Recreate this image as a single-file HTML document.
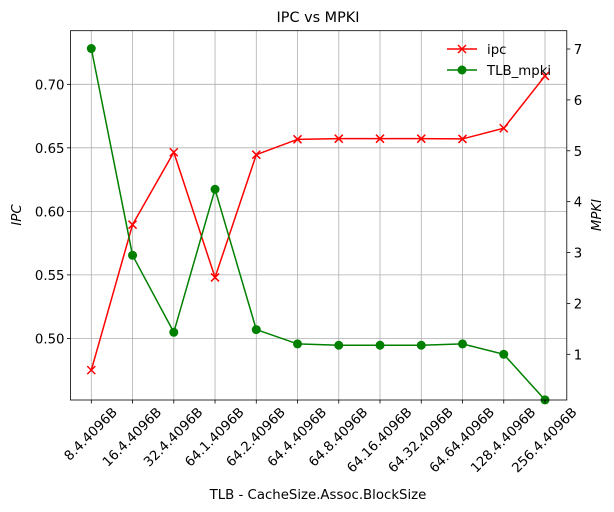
<!DOCTYPE html>
<html><head><meta charset="utf-8">
<style>
body{margin:0;background:#fff;}
svg{display:block;font-family:"DejaVu Sans","Liberation Sans",sans-serif;}
</style></head>
<body>
<svg id="chart" width="614" height="512" viewBox="0 0 614 512" xmlns="http://www.w3.org/2000/svg">
<rect width="614" height="512" fill="#fff"/>
<g id="grid"></g>
<g id="series"></g>
<g id="axes"></g>
<text x="318" y="22" text-anchor="middle" font-size="14.4">IPC vs MPKI</text>
<text x="318" y="499" text-anchor="middle" font-size="13.3">TLB - CacheSize.Assoc.BlockSize</text>
<text transform="translate(21,215) rotate(-90)" text-anchor="middle" font-size="13.3" font-style="italic">IPC</text>
<text transform="translate(601,215) rotate(-90)" text-anchor="middle" font-size="13.3" font-style="italic">MPKI</text>
<g>
  <line x1="447" y1="49" x2="477" y2="49" stroke="red" stroke-width="1.5"/>
  <path d="M458,45 L466,53 M458,53 L466,45" stroke="red" stroke-width="1.5"/>
  <text x="487" y="54" font-size="13.3">ipc</text>
  <line x1="447" y1="70" x2="477" y2="70" stroke="green" stroke-width="1.5"/>
  <circle cx="462" cy="70" r="4.5" fill="green"/>
  <text x="487" y="75" font-size="13.3">TLB_mpki</text>
</g>
</svg>
<script>
const categories=["8.4.4096B","16.4.4096B","32.4.4096B","64.1.4096B","64.2.4096B","64.4.4096B","64.8.4096B","64.16.4096B","64.32.4096B","64.64.4096B","128.4.4096B","256.4.4096B"];
const ipcValues=[0.475,0.5895,0.6465,0.548,0.6446,0.6567,0.6572,0.6572,0.6572,0.657,0.6654,0.7066];
const mpkiValues=[7.01,2.946,1.433,4.243,1.486,1.204,1.178,1.178,1.178,1.204,1.0,0.104];
const ipcTicks=[0.50,0.55,0.60,0.65,0.70];
const ipcTickLabels=["0.50","0.55","0.60","0.65","0.70"];
const mpkiTicks=[1,2,3,4,5,6,7];
const mpkiTickLabels=["1","2","3","4","5","6","7"];

const L=70.5,R=566.8,T=30.7,B=400;
const NS="http://www.w3.org/2000/svg";
const ipcMin=0.4515,ipcMax=0.7422,mMin=0.102,mMax=7.36;
const xPos=i=>91.3+i*(545-91.3)/(categories.length-1);
const yIpc=v=>B-(v-ipcMin)/(ipcMax-ipcMin)*(B-T);
const yM=v=>B-(v-mMin)/(mMax-mMin)*(B-T);
function mk(tag,attrs,parent){const e=document.createElementNS(NS,tag);for(const k in attrs)e.setAttribute(k,attrs[k]);parent.appendChild(e);return e;}
const grid=document.getElementById('grid'),series=document.getElementById('series'),axes=document.getElementById('axes');

categories.forEach((c,i)=>{
  const g=mk('line',{x1:xPos(i),x2:xPos(i),y1:T,y2:B,stroke:'#b0b0b0','stroke-width':0.8},grid);
  
  
  const t=mk('line',{x1:xPos(i),x2:xPos(i),y1:B,y2:B+3.5,stroke:'#000','stroke-width':0.8},axes);
  
  
  const lb=mk('text',{'font-size':13.3,'text-anchor':'middle','dominant-baseline':'central'},axes);
  lb.textContent=c;
  
  
  const w=lb.getComputedTextLength();
  const cy=406+(w*0.7071+13*0.7071)/2;
  lb.setAttribute('x',xPos(i));lb.setAttribute('y',cy);
  lb.setAttribute('transform','rotate(-45 '+xPos(i)+' '+cy+')');
});
ipcTicks.forEach((v,i)=>{
  const g=mk('line',{x1:L,x2:R,y1:yIpc(v),y2:yIpc(v),stroke:'#b0b0b0','stroke-width':0.8},grid);
  
  
  const t=mk('line',{x1:L-3.5,x2:L,y1:yIpc(v),y2:yIpc(v),stroke:'#000','stroke-width':0.8},axes);
  
  
  const lb=mk('text',{x:L-6,y:yIpc(v)+5,'font-size':13.3,'text-anchor':'end'},axes);
  lb.textContent=ipcTickLabels[i];
  
  
});
mpkiTicks.forEach((v,i)=>{
  const t=mk('line',{x1:R,x2:R+3.5,y1:yM(v),y2:yM(v),stroke:'#000','stroke-width':0.8},axes);
  
  
  const lb=mk('text',{x:R+7,y:yM(v)+5,'font-size':13.3},axes);
  lb.textContent=mpkiTickLabels[i];
  
  
});
const frame=mk('rect',{x:L,y:T,width:R-L,height:B-T,fill:'none',stroke:'#000','stroke-width':0.8},axes);



const ipcLine=mk('polyline',{points:ipcValues.map((v,i)=>xPos(i)+','+yIpc(v)).join(' '),fill:'none',stroke:'red','stroke-width':1.5},series);


ipcValues.forEach((v,i)=>{
  const x=xPos(i),y=yIpc(v);
  const m=mk('path',{d:`M${x-4},${y-4} L${x+4},${y+4} M${x-4},${y+4} L${x+4},${y-4}`,stroke:'red','stroke-width':1.5},series);
  
  
});
const mLine=mk('polyline',{points:mpkiValues.map((v,i)=>xPos(i)+','+yM(v)).join(' '),fill:'none',stroke:'green','stroke-width':1.5},series);


mpkiValues.forEach((v,i)=>{
  const c=mk('circle',{cx:xPos(i),cy:yM(v),r:4.5,fill:'green'},series);
  
  
});
</script>
</body></html>
